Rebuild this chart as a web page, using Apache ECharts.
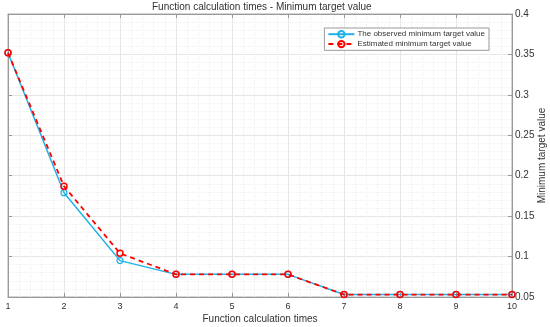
<!DOCTYPE html>
<html><head><meta charset="utf-8">
<script src="https://cdn.jsdelivr.net/npm/echarts@6/dist/echarts.min.js"></script>
<style>html,body{margin:0;padding:0;background:#fff}#c{width:550px;height:327px}</style>
</head><body><div id="c"></div>
<script>
const xValues = [1,2,3,4,5,6,7,8,9,10];
const observed = [0.352,0.179,0.095,0.078,0.078,0.078,0.053,0.053,0.053,0.053];
const estimated = [0.352,0.187,0.104,0.078,0.078,0.078,0.053,0.053,0.053,0.053];
const titleText = 'Function calculation times - Minimum target value';
const xName = 'Function calculation times';
const yName = 'Minimum target value';
const seriesNames = ['The observed minimum target value','Estimated minimum target value'];

const fmt = v => String(parseFloat(v.toFixed(4)));
const font = 'Liberation Sans, Arial, sans-serif';
const chart = echarts.init(document.getElementById('c'));
chart.setOption({
  animation:false,
  title:{text:titleText,left:152,top:2,padding:0,textStyle:{fontSize:10,fontWeight:'normal',color:'#333',fontFamily:font}},
  legend:{top:28,right:61,orient:'vertical',itemGap:1.5,itemWidth:26,itemHeight:8,
    backgroundColor:'#fff',borderColor:'#999',borderWidth:1,padding:[2,4,2,3],
    textStyle:{fontSize:8,color:'#333',fontFamily:font,padding:[0,0,0,-2]},data:seriesNames},
  grid:{left:8,right:38,top:14,bottom:30,show:true,borderColor:'#aaa',borderWidth:1,outerBoundsMode:'none',containLabel:false},
  xAxis:[{type:'value',min:1,max:10,interval:1,name:xName,nameLocation:'middle',nameGap:17,nameMoveOverlap:false,
    nameTextStyle:{fontSize:10,color:'#333',fontFamily:font},
    axisLine:{lineStyle:{color:'#999'}},axisTick:{inside:true,length:4,lineStyle:{color:'#999'}},
    axisLabel:{fontSize:9,color:'#333',margin:5,fontFamily:font},
    splitLine:{show:true,lineStyle:{color:'#e6e6e6'}},
    minorTick:{show:true,splitNumber:5,length:0},
    minorSplitLine:{show:true,lineStyle:{color:'#f0f0f0',type:'dotted'}}},
   {type:'value',position:'top',min:1,max:10,interval:1,axisLine:{show:true,lineStyle:{color:'#999'}},
    axisTick:{inside:true,length:4,lineStyle:{color:'#999'}},axisLabel:{show:false},splitLine:{show:false}}],
  yAxis:[{type:'value',position:'right',min:0.05,max:0.4,interval:0.05,name:yName,nameLocation:'middle',nameGap:25,nameMoveOverlap:false,
    nameRotate:90,nameTextStyle:{fontSize:10,color:'#333',fontFamily:font},
    axisLine:{show:true,lineStyle:{color:'#999'}},axisTick:{show:true,inside:true,length:4,lineStyle:{color:'#999'}},
    axisLabel:{fontSize:10,color:'#333',margin:3,formatter:fmt,fontFamily:font},
    splitLine:{show:true,lineStyle:{color:'#e6e6e6'}},
    minorTick:{show:true,splitNumber:5,length:0},
    minorSplitLine:{show:true,lineStyle:{color:'#f0f0f0',type:'dotted'}}},
   {type:'value',position:'left',min:0.05,max:0.4,interval:0.05,axisLine:{show:true,lineStyle:{color:'#999'}},
    axisTick:{show:true,inside:true,length:4,lineStyle:{color:'#999'}},axisLabel:{show:false},splitLine:{show:false}}],
  series:[
    {name:seriesNames[0],type:'line',data:xValues.map((x,i)=>[x,observed[i]]),
     symbol:'circle',symbolSize:6,lineStyle:{color:'#1fb2e8',width:1.5},
     itemStyle:{color:'rgba(0,0,0,0)',borderColor:'#1fb2e8',borderWidth:1.2},z:2},
    {name:seriesNames[1],type:'line',data:xValues.map((x,i)=>[x,estimated[i]]),
     symbol:'circle',symbolSize:6,lineStyle:{color:'#ff0000',width:1.8,type:[5,4]},
     itemStyle:{color:'rgba(0,0,0,0)',borderColor:'#ff0000',borderWidth:1.5},z:3}
  ]
});
</script></body></html>
